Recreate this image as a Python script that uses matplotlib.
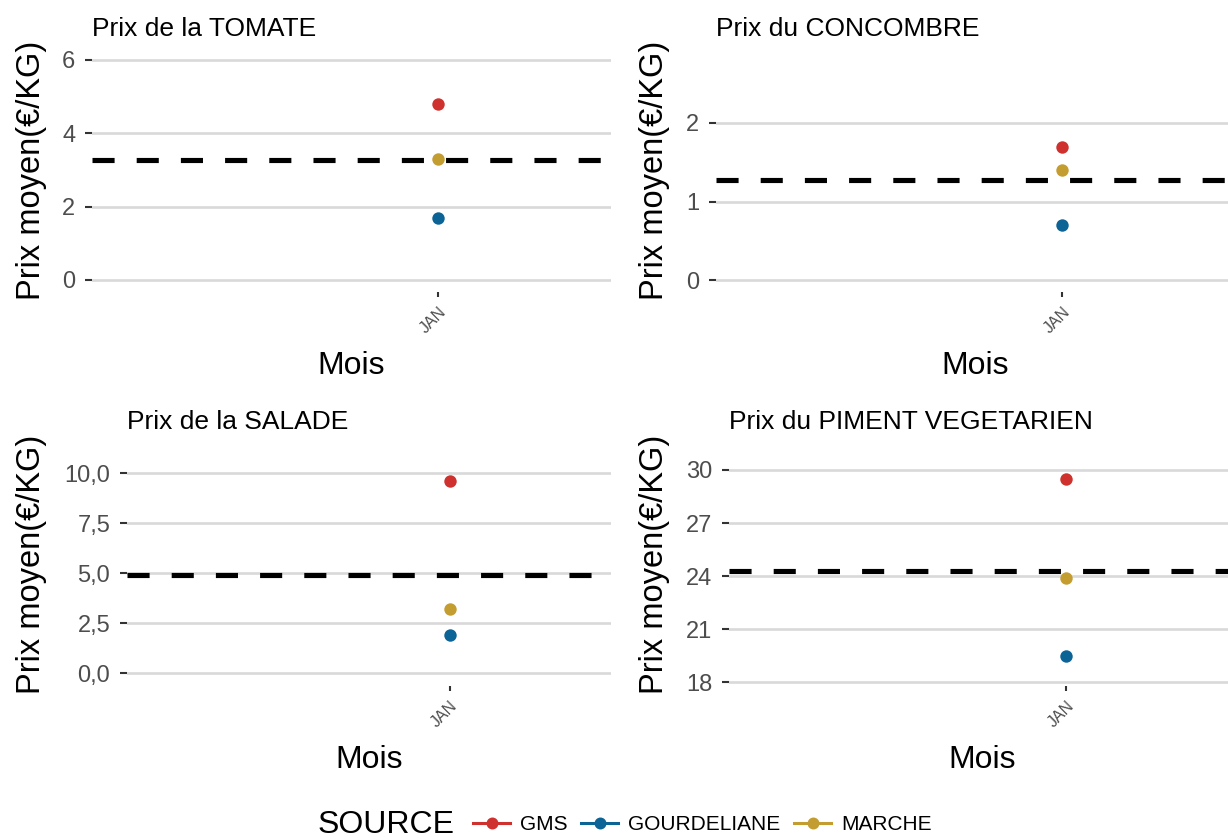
import matplotlib

matplotlib.use("Agg")
import matplotlib.pyplot as plt
from matplotlib.lines import Line2D
from matplotlib.ticker import FuncFormatter
from matplotlib.transforms import blended_transform_factory

plt.rcParams.update({
    "font.family": ["Liberation Sans", "DejaVu Sans"],
    "axes.unicode_minus": False,
})

# data
titles = ["Prix de la TOMATE", "Prix du CONCOMBRE", "Prix de la SALADE", "Prix du PIMENT VEGETARIEN"]
months = ["JAN"]
sources = ["GMS", "GOURDELIANE", "MARCHE"]
gms = [4.8, 1.7, 9.6, 29.5]
gourdeliane = [1.7, 0.7, 1.9, 19.5]
marche = [3.3, 1.4, 3.2, 23.9]
moyenne = [3.27, 1.27, 4.9, 24.3]
yticks = [[0, 2, 4, 6], [0, 1, 2], [0, 2.5, 5, 7.5, 10], [18, 21, 24, 27, 30]]

COLORS = {"GMS": "#CF312E", "GOURDELIANE": "#0B6396", "MARCHE": "#C49D31"}
series = {"GMS": gms, "GOURDELIANE": gourdeliane, "MARCHE": marche}

W, H = 1228, 840
fig = plt.figure(figsize=(W / 100, H / 100), dpi=100)

# panel boxes in pixels: x0, x1, ytop, ybottom
boxes = [(92, 611, 49, 292), (716, 1235, 49, 292), (127, 611, 442, 686), (729, 1235, 442, 686)]
ylims = [(-0.33, 6.3), (-0.15, 2.94), (-0.63, 11.57), (17.8, 31.58)]
ylab_x = [32, 655, 32, 655]
xlab_y = [366, 366, 760, 760]
decimals = [0, 0, 1, 0]

for i, (x0, x1, yt, yb) in enumerate(boxes):
    ax = fig.add_axes([x0 / W, 1 - yb / H, (x1 - x0) / W, (yb - yt) / H])
    for s in ax.spines.values():
        s.set_visible(False)
    ax.set_xlim(-1, 0.5)
    ax.set_ylim(*ylims[i])
    ax.set_yticks(yticks[i])
    d = decimals[i]
    ax.yaxis.set_major_formatter(FuncFormatter(lambda v, p, d=d: f"{v:.{d}f}".replace(".", ",")))
    ax.set_xticks(range(len(months)))
    ax.set_xticklabels(months, rotation=45, ha="right", va="top",
                       rotation_mode="anchor", fontsize=11.5, color="#4D4D4D")
    ax.tick_params(axis="y", length=5, width=1.5, color="#333333", pad=7,
                   labelsize=17, labelcolor="#4D4D4D")
    ax.tick_params(axis="x", length=3.6, width=1.5, color="#333333", pad=5.5)
    ax.grid(axis="y", color="#D9D9D9", linewidth=1.9, zorder=0)
    ax.set_axisbelow(True)

    ax.axhline(moyenne[i], color="black", linewidth=3.7,
               linestyle=(0, (4.3, 4.3)), zorder=2)
    for src in sources:
        ax.scatter([0] * len(months), [series[src][i]], s=80, color=COLORS[src],
                   zorder=3, linewidths=0)

    ax.set_title(titles[i], loc="left", fontsize=19, pad=9)
    ax.set_ylabel("Prix moyen(€/KG)", fontsize=23.5, va="center")
    ax.yaxis.set_label_coords(ylab_x[i] / W, 0.5,
                              transform=blended_transform_factory(fig.transFigure, ax.transAxes))
    ax.set_xlabel("Mois", fontsize=23, va="center")
    ax.xaxis.set_label_coords(0.5, 1 - xlab_y[i] / H,
                              transform=blended_transform_factory(ax.transAxes, fig.transFigure))

handles = [Line2D([], [], color=COLORS[s], marker="o", markersize=8.6, linewidth=2.2,
                  markeredgewidth=0) for s in sources]
fig.text(318 / W, 1 - 825 / H, "SOURCE", fontsize=23, ha="left", va="center")
fig.legend(handles, sources, loc="center left", bbox_to_anchor=(473 / W, 1 - 825 / H),
           ncol=3, frameon=False, fontsize=15, handlelength=1.78, handletextpad=0.46,
           columnspacing=0.67, borderpad=0, borderaxespad=0)

fig.savefig("out.png", dpi=100)
